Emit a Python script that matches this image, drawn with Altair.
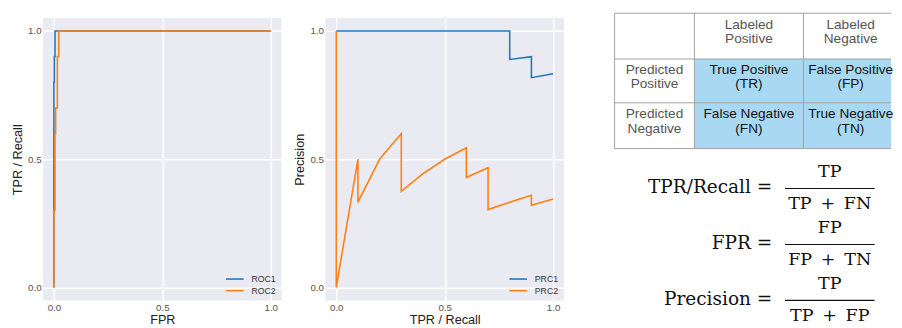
import altair as alt
import pandas as pd

# ---------------- data ----------------
roc1_fpr = [0.0, 0.0, 0.002, 0.002, 0.005, 0.005, 1.0]
roc1_tpr = [0.0, 0.8, 0.8, 0.9, 0.9, 1.0, 1.0]
roc2_fpr = [0.0, 0.0, 0.005, 0.005, 0.008, 0.008, 0.016, 0.016, 0.022, 0.022, 1.0]
roc2_tpr = [0.0, 0.3, 0.3, 0.6, 0.6, 0.7, 0.7, 0.9, 0.9, 1.0, 1.0]

prc1_recall = [0.0, 0.8, 0.8, 0.9, 0.9, 1.0]
prc1_precision = [1.0, 1.0, 0.889, 0.9, 0.818, 0.833]
prc2_recall = [0.0, 0.0, 0.1, 0.1, 0.2, 0.3, 0.3, 0.4, 0.5, 0.6, 0.6, 0.7, 0.7, 0.8, 0.9, 0.9, 1.0]
prc2_precision = [1.0, 0.0, 0.5, 0.333, 0.5, 0.6, 0.375, 0.444, 0.5, 0.545, 0.429, 0.467,
                  0.304, 0.333, 0.36, 0.321, 0.345]

roc_names = ["ROC1", "ROC2"]
prc_names = ["PRC1", "PRC2"]
tick_values = [0.0, 0.5, 1.0]

col_headers = ["Labeled\nPositive", "Labeled\nNegative"]
row_headers = ["Predicted\nPositive", "Predicted\nNegative"]
cell_texts = [["True Positive\n(TR)", "False Positive\n(FP)"],
              ["False Negative\n(FN)", "True Negative\n(TN)"]]

formula_lhs = ["TPR/Recall =", "FPR =", "Precision ="]
formula_num = ["TP", "FP", "TP"]
formula_den = ["TP\u2002+\u2002FN", "FP\u2002+\u2002TN", "TP\u2002+\u2002FP"]

# ---------------- style ----------------
SANS = "Liberation Sans"
SERIF = "DejaVu Serif"
BG = "#EAEAF2"
COLORS = ["#1f77b4", "#ff7f0e"]
PW, PH = 245, 290


def series_df(names, xs_list, ys_list):
    rows = []
    for name, xs, ys in zip(names, xs_list, ys_list):
        for i, (a, b) in enumerate(zip(xs, ys)):
            rows.append({"series": name, "x": a, "y": b, "i": i})
    return pd.DataFrame(rows)


def line_panel(df, names, xtitle, ytitle):
    sc = alt.Scale(domain=[-0.05, 1.05], nice=False, zero=False)
    return alt.Chart(df).mark_line(strokeWidth=1.6).encode(
        x=alt.X("x:Q", title=xtitle, scale=sc,
                axis=alt.Axis(values=tick_values, format=".1f", labelPadding=2, titlePadding=1.5)),
        y=alt.Y("y:Q", title=ytitle, scale=sc,
                axis=alt.Axis(values=tick_values, format=".1f", labelPadding=2, titlePadding=3.5)),
        color=alt.Color("series:N", scale=alt.Scale(domain=names, range=COLORS),
                        legend=alt.Legend(title=None, orient="bottom-right")),
        order=alt.Order("i:Q"),
    ).properties(width=PW, height=PH, view=alt.ViewBackground(fill=BG, stroke=None))


roc = line_panel(series_df(roc_names, [roc1_fpr, roc2_fpr], [roc1_tpr, roc2_tpr]),
                 roc_names, "FPR", "TPR / Recall")
prc = line_panel(series_df(prc_names, [prc1_recall, prc2_recall], [prc1_precision, prc2_precision]),
                 prc_names, "TPR / Recall", "Precision")

# ---------------- table + formulas panel ----------------
X0, Y0 = 575, 13          # panel origin, 1 unit = 1 px
RW = 902 - 578
XR = X0 + RW              # right edge of the panel (table is cut here)
tab_left, tab_top = 615, 8
col_w = [82, 112, 97]
row_h = [47, 45, 47]
line_h = 15

ys = [tab_top]
for h in row_h:
    ys.append(ys[-1] + h)
xs = [tab_left]
for w in col_w:
    xs.append(xs[-1] + w)

cells = []
for r in range(3):
    for c in range(3):
        if r == 0 and c == 0:
            txt, fill, tcol = "", "white", "#555555"
        elif r == 0:
            txt, fill, tcol = col_headers[c - 1], "white", "#555555"
        elif c == 0:
            txt, fill, tcol = row_headers[r - 1], "white", "#555555"
        else:
            txt, fill, tcol = cell_texts[r - 1][c - 1], "#a9d9f2", "#111111"
        cells.append({"x": xs[c], "x2": min(xs[c + 1], XR), "y": ys[r], "y2": ys[r + 1],
                      "xc": (xs[c] + xs[c + 1]) / 2,
                      "yc": (ys[r] + ys[r + 1]) / 2 - line_h / 2 - 4,
                      "label": txt, "fill": fill, "tcol": tcol})
cells_df = pd.DataFrame(cells)

lines = []
for yv in ys:
    lines.append({"x": xs[0], "x2": XR, "y": yv, "y2": yv})
for xv in xs[:-1]:
    lines.append({"x": xv, "x2": xv, "y": ys[0], "y2": ys[-1]})
lines_df = pd.DataFrame(lines)

xs_sc = alt.Scale(domain=[X0, XR], nice=False, zero=False)
ys_sc = alt.Scale(domain=[Y0, Y0 + PH], nice=False, zero=False, reverse=True)

rects = alt.Chart(cells_df).mark_rect(strokeWidth=0).encode(
    x=alt.X("x:Q", scale=xs_sc, axis=None), x2="x2:Q",
    y=alt.Y("y:Q", scale=ys_sc, axis=None), y2="y2:Q",
    fill=alt.Fill("fill:N", scale=None),
)
borders = alt.Chart(lines_df).mark_rule(color="#a0a0a0", strokeWidth=1).encode(
    x=alt.X("x:Q", scale=xs_sc, axis=None), x2="x2:Q",
    y=alt.Y("y:Q", scale=ys_sc, axis=None), y2="y2:Q",
)
cell_text = alt.Chart(cells_df).mark_text(font=SANS, fontSize=14, lineBreak="\n", lineHeight=line_h,
                                          align="center", baseline="middle").encode(
    x=alt.X("xc:Q", scale=xs_sc, axis=None),
    y=alt.Y("yc:Q", scale=ys_sc, axis=None),
    text="label:N",
    color=alt.Color("tcol:N", scale=None),
)

f_bar_x, f_bar_x2, f_eq_x = 790, 882, 777
f_first, f_step = 188, 57.5
frows = []
for k in range(3):
    by = f_first + k * f_step
    frows.append({"lhs": formula_lhs[k], "num": formula_num[k], "den": formula_den[k],
                  "bx": f_bar_x, "bx2": f_bar_x2, "by": by, "lx": f_eq_x, "ly": by - 1,
                  "cx": (f_bar_x + f_bar_x2) / 2, "ny": by - 17, "dy": by + 16})
f_df = pd.DataFrame(frows)

FS = 18
f_bars = alt.Chart(f_df).mark_rule(color="#111111", strokeWidth=1.2).encode(
    x=alt.X("bx:Q", scale=xs_sc, axis=None), x2="bx2:Q",
    y=alt.Y("by:Q", scale=ys_sc, axis=None),
)
f_lhs = alt.Chart(f_df).mark_text(font=SERIF, fontSize=FS + 1, align="right", baseline="middle",
                                  color="#111111").encode(
    x=alt.X("lx:Q", scale=xs_sc, axis=None), y=alt.Y("ly:Q", scale=ys_sc, axis=None), text="lhs:N")
f_num = alt.Chart(f_df).mark_text(font=SERIF, fontSize=FS, align="center", baseline="middle",
                                  color="#111111").encode(
    x=alt.X("cx:Q", scale=xs_sc, axis=None), y=alt.Y("ny:Q", scale=ys_sc, axis=None), text="num:N")
f_den = alt.Chart(f_df).mark_text(font=SERIF, fontSize=FS, align="center", baseline="middle",
                                  color="#111111").encode(
    x=alt.X("cx:Q", scale=xs_sc, axis=None), y=alt.Y("dy:Q", scale=ys_sc, axis=None), text="den:N")

right = alt.layer(rects, borders, cell_text, f_bars, f_lhs, f_num, f_den).properties(
    width=RW, height=PH, view=alt.ViewBackground(fill=None, stroke=None))

chart = alt.hconcat(roc, prc, right, spacing=12).resolve_scale(
    color="independent", x="independent", y="independent"
).resolve_legend(color="independent").properties(
    padding={"left": 3, "top": 0, "right": 0, "bottom": 0}
).configure_axis(
    domain=False, ticks=False, grid=True, gridColor="white", gridWidth=1.5,
    labelFont=SANS, labelFontSize=10, labelColor="#555555",
    titleFont=SANS, titleFontSize=13, titleColor="#222222", titleFontWeight="normal",
).configure_legend(
    labelFont=SANS, labelFontSize=9, labelColor="#333333", symbolType="M-1.5,0H1.5",
    symbolSize=144, symbolStrokeWidth=1.6, labelOffset=10, rowPadding=0, offset=5, padding=0,
).configure_view(stroke=None)

chart.save("out.html", embed_options={"renderer": "svg", "actions": False})
